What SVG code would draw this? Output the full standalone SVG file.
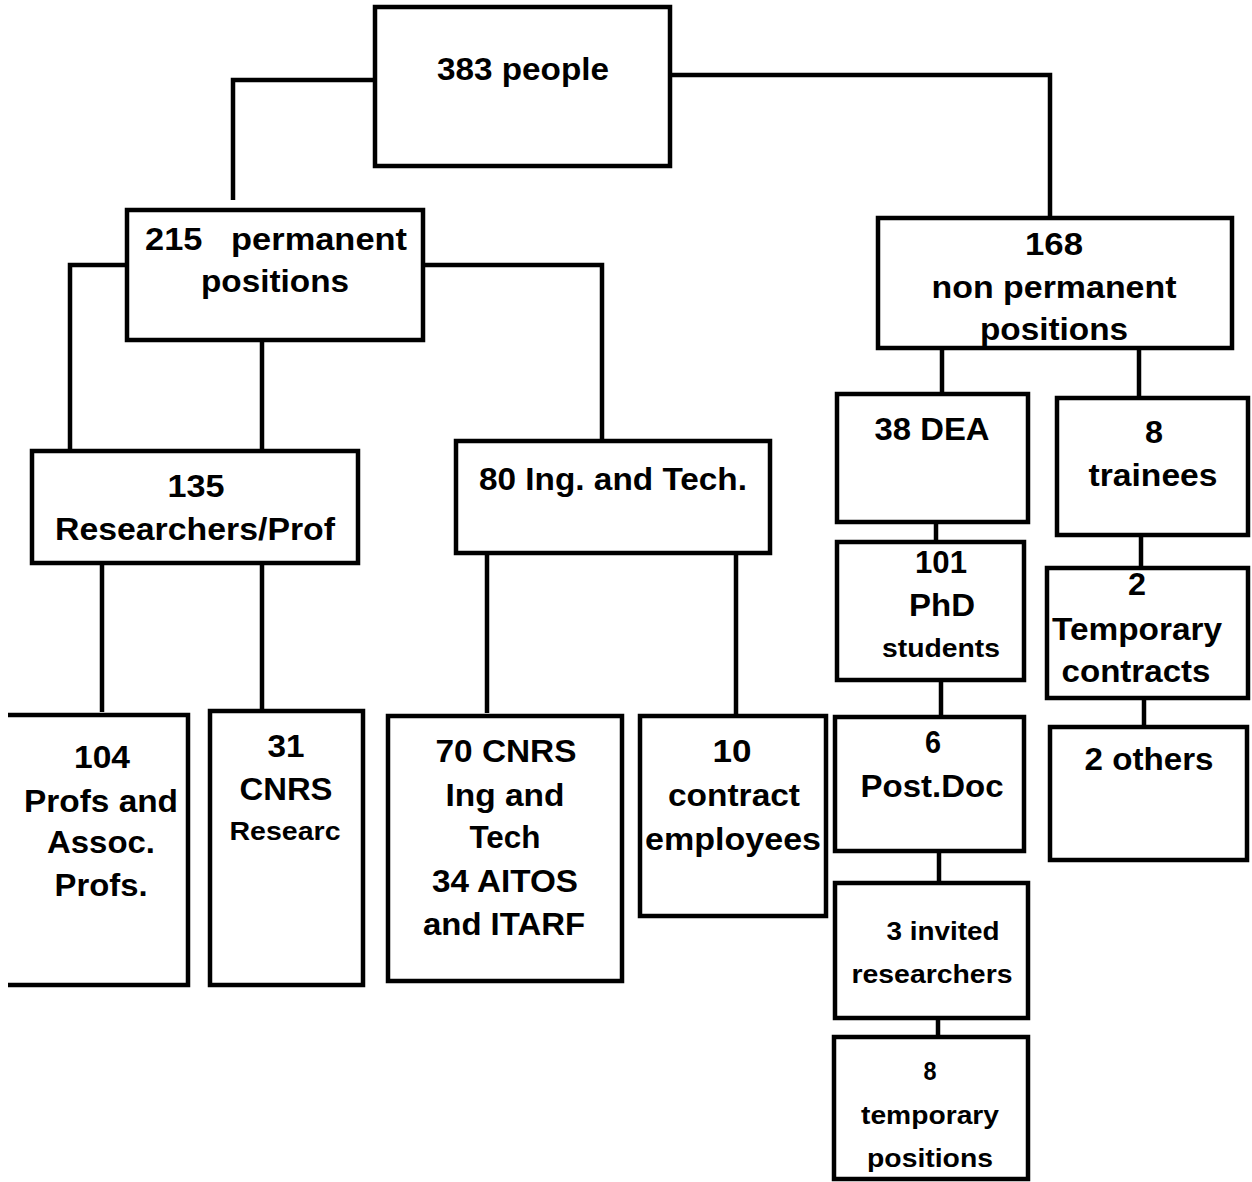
<svg xmlns="http://www.w3.org/2000/svg" width="1252" height="1182" viewBox="0 0 1252 1182">
<style>
.b{fill:#fff;stroke:#000;stroke-width:4.5}
.c{fill:none;stroke:#000;stroke-width:4.5}
text{font-family:"Liberation Sans",Arial,sans-serif;font-weight:bold;font-size:32px;fill:#000;text-anchor:middle}
.s{font-size:26px}
.p{white-space:pre}
</style>
<rect width="1252" height="1182" fill="#fff"/>
<g id="connectors">
<polyline class="c" points="375,80 233,80 233,200"/>
<polyline class="c" points="670,75 1050,75 1050,218"/>
<polyline class="c" points="127,265 70,265 70,451"/>
<polyline class="c" points="423,265 602,265 602,441"/>
<line class="c" x1="262" y1="340" x2="262" y2="451"/>
<line class="c" x1="102" y1="563" x2="102" y2="712"/>
<line class="c" x1="262" y1="563" x2="262" y2="709"/>
<line class="c" x1="487" y1="553" x2="487" y2="713"/>
<line class="c" x1="736" y1="553" x2="736" y2="716"/>
<line class="c" x1="942" y1="348" x2="942" y2="394"/>
<line class="c" x1="1139" y1="348" x2="1139" y2="398"/>
<line class="c" x1="936" y1="522" x2="936" y2="542"/>
<line class="c" x1="1141" y1="535" x2="1141" y2="568"/>
<line class="c" x1="941" y1="680" x2="941" y2="717"/>
<line class="c" x1="1144" y1="698" x2="1144" y2="727"/>
<line class="c" x1="939" y1="851" x2="939" y2="883"/>
<line class="c" x1="938" y1="1018" x2="938" y2="1037"/>
</g>
<g id="n383">
<rect class="b" x="375" y="7" width="295" height="159"/>
<text x="523" y="80" textLength="172" lengthAdjust="spacingAndGlyphs">383 people</text>
</g>
<g id="n215">
<rect class="b" x="127" y="210" width="296" height="130"/>
<text class="p" x="276" y="250" textLength="262" lengthAdjust="spacingAndGlyphs" xml:space="preserve">215   permanent</text>
<text x="275" y="292" textLength="148" lengthAdjust="spacingAndGlyphs">positions</text>
</g>
<g id="n168">
<rect class="b" x="878" y="218" width="354" height="130"/>
<text x="1054" y="255" textLength="58" lengthAdjust="spacingAndGlyphs">168</text>
<text x="1054" y="298" textLength="245" lengthAdjust="spacingAndGlyphs">non permanent</text>
<text x="1054" y="340" textLength="148" lengthAdjust="spacingAndGlyphs">positions</text>
</g>
<g id="n135">
<rect class="b" x="32" y="451" width="326" height="112"/>
<text x="196" y="497" textLength="57" lengthAdjust="spacingAndGlyphs">135</text>
<text x="195" y="540" textLength="280" lengthAdjust="spacingAndGlyphs">Researchers/Prof</text>
</g>
<g id="n80">
<rect class="b" x="456" y="441" width="314" height="112"/>
<text x="613" y="490" textLength="268" lengthAdjust="spacingAndGlyphs">80 Ing. and Tech.</text>
</g>
<g id="n104">
<path class="b" d="M8,715 H188 V985 H8"/>
<text x="102" y="768" textLength="56" lengthAdjust="spacingAndGlyphs">104</text>
<text x="101" y="812" textLength="154" lengthAdjust="spacingAndGlyphs">Profs and</text>
<text x="101" y="853" textLength="108" lengthAdjust="spacingAndGlyphs">Assoc.</text>
<text x="101" y="896" textLength="93" lengthAdjust="spacingAndGlyphs">Profs.</text>
</g>
<g id="n31">
<rect class="b" x="210" y="711" width="153" height="274"/>
<text x="286" y="757" textLength="37" lengthAdjust="spacingAndGlyphs">31</text>
<text x="286" y="800" textLength="93" lengthAdjust="spacingAndGlyphs">CNRS</text>
<text class="s" x="285" y="840" textLength="111" lengthAdjust="spacingAndGlyphs">Researc</text>
</g>
<g id="n70">
<rect class="b" x="388" y="716" width="234" height="265"/>
<text x="506" y="762" textLength="141" lengthAdjust="spacingAndGlyphs">70 CNRS</text>
<text x="505" y="806" textLength="119" lengthAdjust="spacingAndGlyphs">Ing and</text>
<text x="505" y="848" textLength="71" lengthAdjust="spacingAndGlyphs">Tech</text>
<text x="505" y="892" textLength="146" lengthAdjust="spacingAndGlyphs">34 AITOS</text>
<text x="504" y="935" textLength="162" lengthAdjust="spacingAndGlyphs">and ITARF</text>
</g>
<g id="n10">
<rect class="b" x="640" y="716" width="186" height="200"/>
<text x="732" y="762" textLength="39" lengthAdjust="spacingAndGlyphs">10</text>
<text x="734" y="806" textLength="132" lengthAdjust="spacingAndGlyphs">contract</text>
<text x="733" y="850" textLength="176" lengthAdjust="spacingAndGlyphs">employees</text>
</g>
<g id="n38">
<rect class="b" x="837" y="394" width="191" height="128"/>
<text x="932" y="440" textLength="115" lengthAdjust="spacingAndGlyphs">38 DEA</text>
</g>
<g id="n8t">
<rect class="b" x="1057" y="398" width="191" height="137"/>
<text x="1154" y="443" textLength="18" lengthAdjust="spacingAndGlyphs">8</text>
<text x="1153" y="486" textLength="129" lengthAdjust="spacingAndGlyphs">trainees</text>
</g>
<g id="n101">
<rect class="b" x="837" y="542" width="187" height="138"/>
<text x="941" y="573" textLength="52" lengthAdjust="spacingAndGlyphs">101</text>
<text x="942" y="616" textLength="66" lengthAdjust="spacingAndGlyphs">PhD</text>
<text class="s" x="941" y="657" textLength="118" lengthAdjust="spacingAndGlyphs">students</text>
</g>
<g id="n2t">
<rect class="b" x="1047" y="568" width="201" height="130"/>
<text x="1137" y="595" textLength="18" lengthAdjust="spacingAndGlyphs">2</text>
<text x="1137" y="640" textLength="170" lengthAdjust="spacingAndGlyphs">Temporary</text>
<text x="1136" y="682" textLength="149" lengthAdjust="spacingAndGlyphs">contracts</text>
</g>
<g id="n6">
<rect class="b" x="835" y="717" width="189" height="134"/>
<text x="933" y="753" textLength="16" lengthAdjust="spacingAndGlyphs">6</text>
<text x="932" y="797" textLength="143" lengthAdjust="spacingAndGlyphs">Post.Doc</text>
</g>
<g id="n2o">
<rect class="b" x="1050" y="727" width="197" height="133"/>
<text x="1149" y="770" textLength="129" lengthAdjust="spacingAndGlyphs">2 others</text>
</g>
<g id="n3">
<rect class="b" x="835" y="883" width="193" height="135"/>
<text class="s" x="943" y="940" textLength="113" lengthAdjust="spacingAndGlyphs">3 invited</text>
<text class="s" x="932" y="983" textLength="161" lengthAdjust="spacingAndGlyphs">researchers</text>
</g>
<g id="n8p">
<rect class="b" x="834" y="1037" width="194" height="142"/>
<text class="s" x="930" y="1080" textLength="13" lengthAdjust="spacingAndGlyphs">8</text>
<text class="s" x="930" y="1124" textLength="138" lengthAdjust="spacingAndGlyphs">temporary</text>
<text class="s" x="930" y="1167" textLength="126" lengthAdjust="spacingAndGlyphs">positions</text>
</g>
</svg>
